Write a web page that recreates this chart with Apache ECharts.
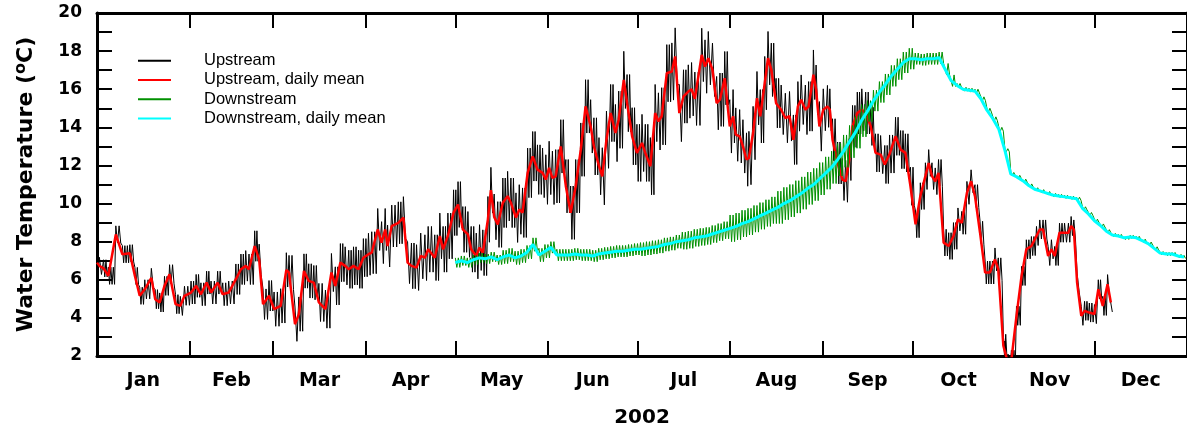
<!DOCTYPE html>
<html>
<head>
<meta charset="utf-8">
<script src="https://cdn.jsdelivr.net/npm/echarts@6/dist/echarts.min.js"></script>
<style>
  html, body { margin: 0; padding: 0; background: #fff; }
  #chart { width: 1187px; height: 433px; }
</style>
</head>
<body>
<div id="chart"></div>
<script>
// day of year (0 = Jan 1 2002) where each month starts
const monthStart = [0, 31, 59, 90, 120, 151, 181, 212, 243, 273, 304, 334, 365]
const monthNames = ['Jan', 'Feb', 'Mar', 'Apr', 'May', 'Jun', 'Jul', 'Aug', 'Sep', 'Oct', 'Nov', 'Dec']

// upstream daily mean, [day, degC]
const upMean = [
  [0, 6.9], [0.8, 6.73], [2.2, 6.6], [3.8, 6.21], [6.3, 8.38], [8.5, 7.34], [11, 7.39], [12.7, 6.2],
  [14.3, 5.16], [16, 5.5], [18.2, 6.1], [19.5, 4.98], [21, 4.81], [22.6, 5.68], [24.3, 6.29], [26.3, 4.72],
  [27.9, 4.63], [29.3, 5.16], [31.5, 5.33], [33.2, 5.68], [34.8, 5.24], [36.7, 5.85], [38.2, 5.33], [40.4, 5.85],
  [42.1, 5.24], [44.1, 5.33], [46.5, 6.03], [48.2, 6.55], [49.8, 6.73], [50.9, 6.55], [52.8, 7.77], [54.3, 7.07],
  [55.6, 4.72], [57.6, 5.16], [59.3, 4.46], [61.5, 4.63], [63.4, 6.52], [64.3, 6.38], [66.3, 3.67], [67.6, 4.2],
  [69.3, 6.46], [70.9, 5.94], [72.6, 5.85], [74.3, 4.81], [76.5, 4.46], [78.5, 6.38], [79.8, 5.68], [81.5, 6.9],
  [83.1, 6.73], [84.3, 6.55], [85.9, 6.73], [87.6, 6.55], [89.2, 7.16], [90.9, 7.34], [92, 7.42], [94, 8.64],
  [95.3, 7.95], [96.5, 8.64], [97.3, 7.77], [98.7, 8.82], [100.9, 8.99], [102.6, 9.26], [104, 6.9], [105.3, 6.73],
  [107, 6.64], [108.4, 7.25], [109.8, 7.16], [110.9, 7.6], [113.1, 7.16], [114.8, 8.3], [115.9, 7.6], [117.5, 8.3],
  [119.4, 9.52], [120.9, 9.95], [122.5, 8.64], [124.2, 8.38], [125.3, 7.6], [127, 7.25], [128.1, 7.69], [129.2, 7.42],
  [130.9, 9.17], [131.9, 10.7], [133, 9.3], [134.2, 8.9], [135.9, 10.04], [137.5, 10.39], [138.6, 10.04], [140.3, 9.26],
  [141.4, 9.69], [142.5, 9.52], [144.2, 11.61], [145.9, 12.48], [147.5, 11.78], [149.2, 11.61], [150.3, 11.26], [151.4, 11.87],
  [152.5, 11.35], [153.6, 11.43], [155.3, 13.0], [157, 10.91], [158.6, 9.52], [160.3, 10.91], [162, 12.83], [163.6, 15.1],
  [165.3, 14.05], [166.4, 13.0], [168.1, 11.96], [169.2, 11.43], [170.6, 13.35], [172, 14.75], [173.6, 13.7], [174.7, 14.4],
  [176.4, 16.49], [177.5, 15.27], [179.2, 13.53], [180.8, 12.66], [182.5, 13.18], [183.6, 12.66], [185.3, 11.96], [186.9, 14.75],
  [188, 14.31], [189.1, 14.58], [190.8, 16.84], [192.5, 16.93], [193.6, 17.72], [195, 14.75], [196.4, 15.62], [198, 15.88],
  [199.1, 16.0], [200.2, 15.5], [202.5, 17.8], [203.6, 17.19], [204.7, 17.63], [206.1, 17.02], [207.5, 15.27], [208.6, 15.45],
  [210.2, 16.58], [211.9, 14.05], [213, 14.58], [213.9, 13.62], [215.2, 13.53], [216.3, 13.0], [217.5, 12.31], [218.3, 12.39],
  [219.7, 13.7], [221, 15.53], [222.1, 14.58], [223.6, 16.32], [224.7, 17.63], [225.8, 17.02], [227.4, 15.27], [229.1, 14.92],
  [230.5, 14.49], [231.9, 14.58], [233.2, 13.35], [234.7, 15.1], [235.8, 15.45], [237.2, 14.92], [238.3, 15.1], [239.9, 16.76],
  [240.8, 15.97], [241.9, 14.05], [243.2, 14.92], [244.6, 15.1], [245.4, 14.92], [246.3, 13.35], [248, 12.13], [249.6, 11.26],
  [250.7, 11.17], [251.9, 12.31], [253, 14.05], [254.6, 14.75], [256.1, 14.92], [257.4, 14.75], [259.1, 14.05], [260.7, 12.66],
  [262.4, 12.57], [263.8, 12.05], [265.4, 12.6], [267.4, 13.53], [269.1, 12.83], [270.7, 12.66], [272.4, 10.91], [274.1, 8.91],
  [275.7, 10.39], [277.4, 11.44], [278.5, 12.13], [279.6, 11.44], [280.7, 11.17], [281.8, 11.61], [283.5, 7.95], [285.2, 7.77],
  [286.8, 8.3], [288.3, 9.17], [289.6, 8.99], [291.3, 10.56], [292.7, 11.17], [294, 10.39], [295.7, 8.47], [297.4, 6.38],
  [299, 6.38], [300.7, 7.07], [301.8, 6.55], [303.5, 2.54], [305.1, 1.6], [306.2, 1.8], [307.9, 4.11], [309.6, 6.2],
  [311.2, 7.6], [312.9, 7.77], [314.6, 8.3], [315.7, 8.64], [316.8, 8.64], [318.5, 7.25], [319.6, 7.6], [320.7, 7.25],
  [322.3, 8.47], [324, 8.47], [325.3, 8.47], [326.2, 8.82], [327.1, 8.64], [328.2, 5.85], [329.6, 4.11], [330.7, 4.37],
  [332.3, 4.28], [334, 4.2], [335.3, 5.5], [336.8, 4.63], [338.4, 5.77], [339.5, 4.81]
]

// downstream daily mean, [day, degC]
const downMean = [
  [120, 6.9], [122, 7.0], [124, 6.9], [126, 7.05], [128, 7.15], [130, 7.1], [132, 7.2], [134, 7.05],
  [136, 7.2], [138, 7.3], [140, 7.15], [142, 7.25], [144, 7.45], [146, 7.85], [148, 7.3], [150, 7.5],
  [152, 7.7], [154, 7.3], [156, 7.3], [158, 7.3], [160, 7.35], [162, 7.3], [164, 7.3], [166, 7.25],
  [168, 7.35], [170, 7.4], [172, 7.45], [174, 7.5], [176, 7.5], [178, 7.55], [180, 7.6], [182, 7.6],
  [184, 7.65], [186, 7.7], [188, 7.75], [190, 7.85], [192, 7.9], [194, 8.0], [196, 8.05], [198, 8.1],
  [200, 8.2], [202, 8.25], [204, 8.3], [206, 8.4], [208, 8.5], [210, 8.6], [212, 8.7], [214, 8.8],
  [216, 8.95], [218, 9.05], [220, 9.2], [222, 9.35], [224, 9.5], [226, 9.65], [228, 9.8], [230, 10.0],
  [232, 10.15], [234, 10.35], [236, 10.55], [238, 10.8], [240, 11.0], [242, 11.3], [244, 11.6], [246, 11.9],
  [248, 12.3], [250, 12.75], [252, 13.25], [254, 13.75], [256, 14.35], [258, 14.85], [260, 15.4], [262, 15.85],
  [264, 16.25], [266, 16.7], [268, 17.05], [270, 17.4], [272, 17.6], [274, 17.6], [276, 17.55], [278, 17.6],
  [280, 17.6], [282, 17.65], [284, 17.05], [286, 16.45], [288, 16.2], [290, 16.0], [292, 15.95], [294, 15.9],
  [296, 15.5], [298, 14.9], [300, 14.45], [302, 13.9], [304, 12.8], [306, 11.55], [308, 11.4], [310, 11.2],
  [312, 10.95], [314, 10.75], [316, 10.65], [318, 10.55], [320, 10.45], [322, 10.4], [324, 10.35], [326, 10.3],
  [328, 10.25], [330, 9.75], [332, 9.45], [334, 9.1], [336, 8.85], [338, 8.55], [340, 8.35], [342, 8.3],
  [344, 8.2], [346, 8.25], [348, 8.2], [350, 8.05], [352, 7.9], [354, 7.65], [356, 7.4], [358, 7.35],
  [360, 7.35], [362, 7.25], [364, 7.2]
]

// typical half daily range (degC) per half month, Jan 1-15, Jan 16-31, Feb 1-15 ...
const upSwing = [0.45, 0.5, 0.6, 0.8, 0.9, 1.0, 1.1, 1.2, 1.2, 1.3, 1.4, 1.5, 1.5, 1.4, 1.4, 1.3, 1.1, 1.0, 0.7, 0.6, 0.5, 0.5, 0.5, 0.5]
const downSwing = [0, 0, 0, 0, 0, 0, 0, 0, 0.25, 0.35, 0.3, 0.3, 0.35, 0.45, 0.7, 0.85, 0.85, 0.55, 0.3, 0.1, 0.08, 0.08, 0.08, 0.08]

const BOLD = '"DejaVu Sans", Arial, sans-serif'
const PLAIN = '"Liberation Sans", Arial, Helvetica, sans-serif'

function halfMonth(day) {
  let m = 0
  while (m < 11 && day >= monthStart[m + 1]) m++
  return m * 2 + (day - monthStart[m] >= 15 ? 1 : 0)
}

// raw record: one up/down swing per day around the daily mean
function diurnal(points, swing) {
  const out = []
  for (let i = 0; i < points.length; i++) {
    const d = points[i][0]
    const v = points[i][1]
    const next = i + 1 < points.length ? points[i + 1][0] : d + 1
    const gap = next - d
    const n = Math.max(1, Math.round(gap))
    const s = swing[halfMonth(d)]
    for (let k = 0; k < n; k++) {
      const t = d + k * gap / n
      out.push([t, v + s], [t + gap / (2 * n), v - s])
    }
  }
  return out
}

const monthMid = monthNames.map((m, i) => (monthStart[i] + monthStart[i + 1]) / 2)

const chart = echarts.init(document.getElementById('chart'))

const tickStyle = { show: true, inside: true, length: 15, lineStyle: { color: '#000', width: 2 } }
const lineAxis = { show: true, onZero: false, lineStyle: { color: '#000', width: 3 } }

const xBase = {
  type: 'value',
  min: 0,
  max: 365,
  axisLine: lineAxis,
  axisTick: Object.assign({}, tickStyle, { customValues: monthStart }),
  splitLine: { show: false }
}

const yBase = {
  type: 'value',
  min: 2,
  max: 20,
  interval: 2,
  axisLine: lineAxis,
  axisTick: tickStyle,
  minorTick: { show: true, splitNumber: 2, length: 15, lineStyle: { color: '#000', width: 2 } },
  splitLine: { show: false },
  minorSplitLine: { show: false }
}

const option = {
  animation: false,
  backgroundColor: '#fff',
  grid: { left: 97, right: -6, top: 13, bottom: 76 },
  legend: {
    orient: 'vertical',
    left: 137,
    top: 51,
    padding: 0,
    itemWidth: 33,
    itemHeight: 10,
    itemGap: 0,
    itemStyle: { opacity: 0 },
    textStyle: { fontFamily: PLAIN, fontSize: 16.5, color: '#000', lineHeight: 19.3, padding: [0, 0, 0, 28] },
    data: ['Upstream', 'Upstream, daily mean', 'Downstream', 'Downstream, daily mean']
  },
  xAxis: [
    Object.assign({}, xBase, {
      position: 'bottom',
      name: '2002',
      nameLocation: 'middle',
      nameGap: 52,
      nameTextStyle: { fontFamily: BOLD, fontSize: 20, fontWeight: 'bold', color: '#000' },
      axisLabel: {
        show: true,
        customValues: monthMid,
        margin: 16,
        fontFamily: BOLD,
        fontSize: 19,
        fontWeight: 'bold',
        color: '#000',
        formatter: (v) => monthNames[monthMid.indexOf(v)] || ''
      }
    }),
    Object.assign({}, xBase, { position: 'top', axisLabel: { show: false } })
  ],
  yAxis: [
    Object.assign({}, yBase, {
      position: 'left',
      name: 'Water Temperature ({sup|o}C)',
      nameLocation: 'middle',
      nameGap: 58,
      nameTextStyle: {
        fontFamily: BOLD, fontSize: 22, fontWeight: 'bold', color: '#000', lineHeight: 26,
        rich: { sup: { fontFamily: BOLD, fontSize: 16, fontWeight: 'bold', color: '#000', verticalAlign: 'top', lineHeight: 16 } }
      },
      axisLabel: { show: true, margin: 15, fontFamily: BOLD, fontSize: 17, fontWeight: 'bold', color: '#000' }
    }),
    Object.assign({}, yBase, { position: 'right', axisLabel: { show: false } })
  ],
  series: [
    {
      name: 'Upstream',
      type: 'line',
      symbol: 'none',
      data: diurnal(upMean, upSwing),
      lineStyle: { color: '#000', width: 1 },
      itemStyle: { color: '#000' }
    },
    {
      name: 'Upstream, daily mean',
      type: 'line',
      symbol: 'none',
      data: upMean,
      lineStyle: { color: '#ff0000', width: 2.5 },
      itemStyle: { color: '#ff0000' }
    },
    {
      name: 'Downstream',
      type: 'line',
      symbol: 'none',
      data: diurnal(downMean, downSwing),
      lineStyle: { color: '#009000', width: 1 },
      itemStyle: { color: '#009000' }
    },
    {
      name: 'Downstream, daily mean',
      type: 'line',
      symbol: 'none',
      data: downMean,
      lineStyle: { color: '#00ffff', width: 3 },
      itemStyle: { color: '#00ffff' }
    }
  ]
}

chart.setOption(option)
</script>
</body>
</html>
